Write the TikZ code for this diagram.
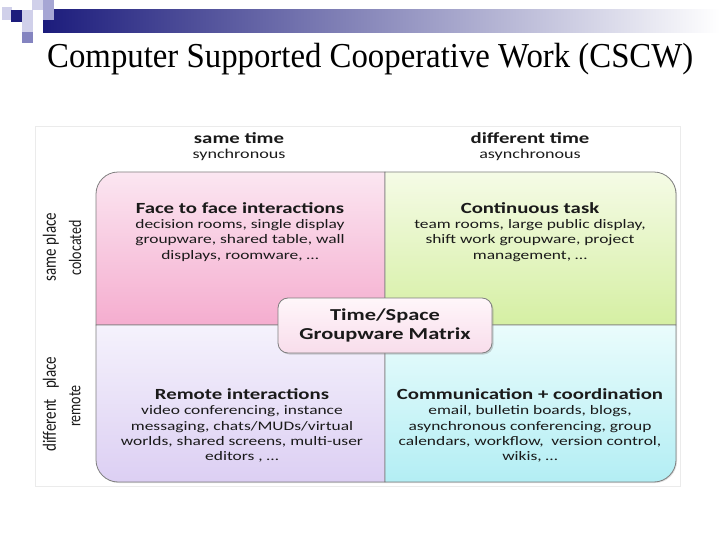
\documentclass[tikz,border=0pt]{standalone}
\usepackage{fontspec}
\setmainfont{Liberation Serif}
\newfontfamily\calf{Carlito}
\usetikzlibrary{shadows}
\definecolor{navy}{HTML}{1C1C7C}
\definecolor{sqlight}{HTML}{D0D0EA}
\definecolor{sqmid}{HTML}{A6A6D4}
\definecolor{sqdark}{HTML}{8484C0}
\definecolor{txt}{HTML}{1A1A1A}
\definecolor{pinkT}{HTML}{FBE6F1}
\definecolor{pinkB}{HTML}{F5ADCF}
\definecolor{greenT}{HTML}{F5FBE6}
\definecolor{greenB}{HTML}{D5EFA3}
\definecolor{purpT}{HTML}{F5F2FC}
\definecolor{purpB}{HTML}{DCCFF3}
\definecolor{cyanT}{HTML}{EAFCFC}
\definecolor{cyanB}{HTML}{B3EEF4}
\definecolor{boxT}{HTML}{FFF6FA}
\definecolor{boxB}{HTML}{F8DDEB}
\definecolor{edge}{HTML}{7F7F7F}
\newcommand\wide[1]{\scalebox{1.34}[1]{#1}}
\newcommand\tall[1]{\scalebox{1}[1.25]{#1}}
\newcommand\qt[1]{{\bfseries\fontsize{15.5}{17}\selectfont #1}}
\tikzset{
  quad/.style={draw=edge, line width=0.8pt},
  body/.style={font=\calf\fontsize{13}{15.3}\selectfont, text=txt, align=center, inner sep=0pt},
  head/.style={font=\calf\bfseries\fontsize{15.5}{17}\selectfont, text=txt, inner sep=0pt},
  subhead/.style={font=\calf\fontsize{13.5}{16}\selectfont, text=txt, inner sep=0pt},
  side/.style={font=\calf\fontsize{15}{17}\selectfont, text=txt, inner sep=0pt, rotate=90},
  subside/.style={font=\calf\fontsize{14}{16}\selectfont, text=txt, inner sep=0pt, rotate=90}
}
\begin{document}
\begin{tikzpicture}[x=1pt,y=-1pt]
\useasboundingbox (0,0) rectangle (720,540);
\fill[white] (0,0) rectangle (720,540);
% title bar decoration
\shade[left color=navy, right color=white] (43,10) rectangle (720,33);
\fill[sqlight] (2,7) rectangle (12,20);
\fill[navy] (11,10) rectangle (22,22);
\fill[sqlight] (22,10) rectangle (33,22);
\fill[sqlight] (32,0) rectangle (43,10);
\fill[sqmid] (43,0) rectangle (54,20);
\fill[sqlight] (22,22) rectangle (33,32);
\fill[sqdark] (22,32) rectangle (33,43);
\node[font=\fontsize{35}{40}\selectfont, anchor=base west, inner sep=0pt] (title) at (47,68) {\resizebox{646pt}{\height}{Computer Supported Cooperative Work (CSCW)}};
% image frame
\draw[black!8, line width=0.5pt] (35,126) rectangle (680,486);
% quadrants
\path[quad, top color=pinkT, bottom color=pinkB, drop shadow={opacity=0.25, shadow xshift=1pt, shadow yshift=-1pt}]
  (96,325) -- (96,194) .. controls (96,182) and (106,172) .. (118,172) -- (385,172) -- (385,325) -- cycle;
\path[quad, top color=greenT, bottom color=greenB, drop shadow={opacity=0.25, shadow xshift=1pt, shadow yshift=-1pt}]
  (385,172) -- (654,172) .. controls (666,172) and (676,182) .. (676,194) -- (676,325) -- (385,325) -- cycle;
\path[quad, top color=purpT, bottom color=purpB, drop shadow={opacity=0.25, shadow xshift=1pt, shadow yshift=-1pt}]
  (96,325) -- (385,325) -- (385,482) -- (118,482) .. controls (106,482) and (96,472) .. (96,460) -- cycle;
\path[quad, top color=cyanT, bottom color=cyanB, drop shadow={opacity=0.25, shadow xshift=1pt, shadow yshift=-1pt}]
  (385,325) -- (676,325) -- (676,460) .. controls (676,472) and (666,482) .. (654,482) -- (385,482) -- cycle;
% headers
\node[head] (st) at (239,138) {\wide{same time}};
\node[subhead] (sy) at (239,155) {\wide{synchronous}};
\node[head] (dt) at (530,138) {\wide{different time}};
\node[subhead] (as) at (530,155) {\wide{asynchronous}};
% side labels
\node[side] (sp) at (51,247) {\tall{same place}};
\node[subside] (co) at (75,248) {\tall{colocated}};
\node[side] (dp) at (51,404) {\tall{different\ \ \ place}};
\node[subside] (re) at (75,406) {\tall{remote}};
% quadrant texts
\node[body] (ff) at (240,233) {\wide{\begin{tabular}{@{}c@{}}\qt{Face to face interactions}\\decision rooms, single display\\groupware, shared table, wall\\displays, roomware, \dots\end{tabular}}};
\node[body] (ct) at (530,233) {\wide{\begin{tabular}{@{}c@{}}\qt{Continuous task}\\team rooms, large public display,\\shift work groupware, project\\management, \dots\end{tabular}}};
\node[body] (ri) at (242,427) {\wide{\begin{tabular}{@{}c@{}}\qt{Remote interactions}\\video conferencing, instance\\messaging, chats/MUDs/virtual\\worlds, shared screens, multi-user\\editors , \dots\end{tabular}}};
\node[body] (cc) at (530,427) {\wide{\begin{tabular}{@{}c@{}}\qt{Communication + coordination}\\email, bulletin boards, blogs,\\asynchronous conferencing, group\\calendars, workflow,\ \ version control,\\wikis, \dots\end{tabular}}};
% center box
\path[draw=edge, line width=0.8pt, rounded corners=10pt, top color=boxT, bottom color=boxB, drop shadow={opacity=0.35, shadow xshift=1.5pt, shadow yshift=-1.5pt}]
  (278,298) rectangle (492,353);
\node[font=\calf\bfseries\fontsize{16.7}{19}\selectfont, text=txt, align=center, inner sep=0pt] (mx) at (385,326) {\wide{\begin{tabular}{@{}c@{}}Time/Space\\Groupware Matrix\end{tabular}}};
\end{tikzpicture}
\end{document}
